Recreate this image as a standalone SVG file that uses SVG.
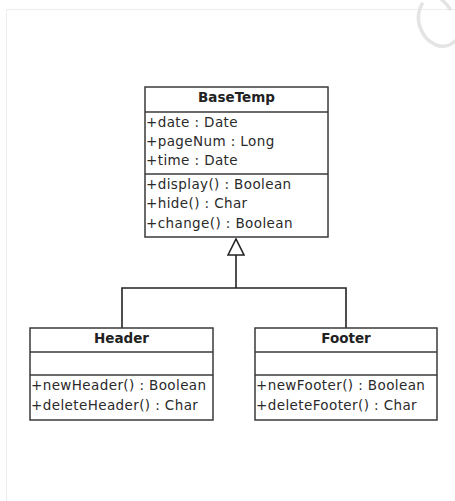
<svg xmlns="http://www.w3.org/2000/svg" width="455" height="501" viewBox="0 0 455 501">
  <style>
    .box { fill: #ffffff; stroke: #3a3a3a; stroke-width: 1.5; }
    .sep { stroke: #3a3a3a; stroke-width: 1.5; }
    .title { font-family: "DejaVu Sans", sans-serif; font-size: 13.5px; font-weight: bold; fill: #222; text-anchor: middle; }
    .member { font-family: "DejaVu Sans", sans-serif; font-size: 13.5px; letter-spacing: 0.4px; fill: #2a2a2a; }
    .edge { fill: none; stroke: #222; stroke-width: 1.6; }
  </style>
  <defs>
    <marker id="inherit" viewBox="0 0 18 18" refX="17" refY="9" markerWidth="18" markerHeight="18" markerUnits="userSpaceOnUse" orient="auto">
      <path d="M1,1 L17,9 L1,17 Z" fill="#fff" stroke="#222" stroke-width="1.6"/>
    </marker>
  </defs>

  <rect width="455" height="501" fill="#ffffff"/>
  <!-- page frame -->
  <path d="M6.5,501 V9.5 H455" fill="none" stroke="#ececec" stroke-width="1"/>
  <!-- corner mark -->
  <g fill="none" stroke="#e4e4e4" stroke-width="3.5" stroke-linecap="round">
    <path d="M422,4 C414,18 420,38 436,45 C444,48 451,45 455,41"/>
    <path d="M442,0 Q447,4 450,9"/>
  </g>

  <g id="connectors">
    <path class="edge" d="M122,328 V288 H346 V328"/>
    <path class="edge" d="M236,288 V239" marker-end="url(#inherit)"/>
  </g>

  <g id="BaseTemp">
    <rect class="box" x="145" y="87" width="183" height="150"/>
    <line class="sep" x1="145" y1="112" x2="328" y2="112"/>
    <line class="sep" x1="145" y1="174" x2="328" y2="174"/>
    <text class="title" x="236.5" y="102">BaseTemp</text>
    <text class="member" x="146" y="127">+date : Date</text>
    <text class="member" x="146" y="146">+pageNum : Long</text>
    <text class="member" x="146" y="165">+time : Date</text>
    <text class="member" x="146" y="189">+display() : Boolean</text>
    <text class="member" x="146" y="208">+hide() : Char</text>
    <text class="member" x="146" y="228">+change() : Boolean</text>
  </g>

  <g id="Header">
    <rect class="box" x="30" y="328" width="183" height="92"/>
    <line class="sep" x1="30" y1="352" x2="213" y2="352"/>
    <line class="sep" x1="30" y1="375" x2="213" y2="375"/>
    <text class="title" x="121.5" y="343">Header</text>
    <text class="member" x="31" y="390">+newHeader() : Boolean</text>
    <text class="member" x="31" y="410">+deleteHeader() : Char</text>
  </g>

  <g id="Footer">
    <rect class="box" x="255" y="328" width="182" height="92"/>
    <line class="sep" x1="255" y1="352" x2="437" y2="352"/>
    <line class="sep" x1="255" y1="375" x2="437" y2="375"/>
    <text class="title" x="346" y="343">Footer</text>
    <text class="member" x="256" y="390">+newFooter() : Boolean</text>
    <text class="member" x="256" y="410">+deleteFooter() : Char</text>
  </g>
</svg>
